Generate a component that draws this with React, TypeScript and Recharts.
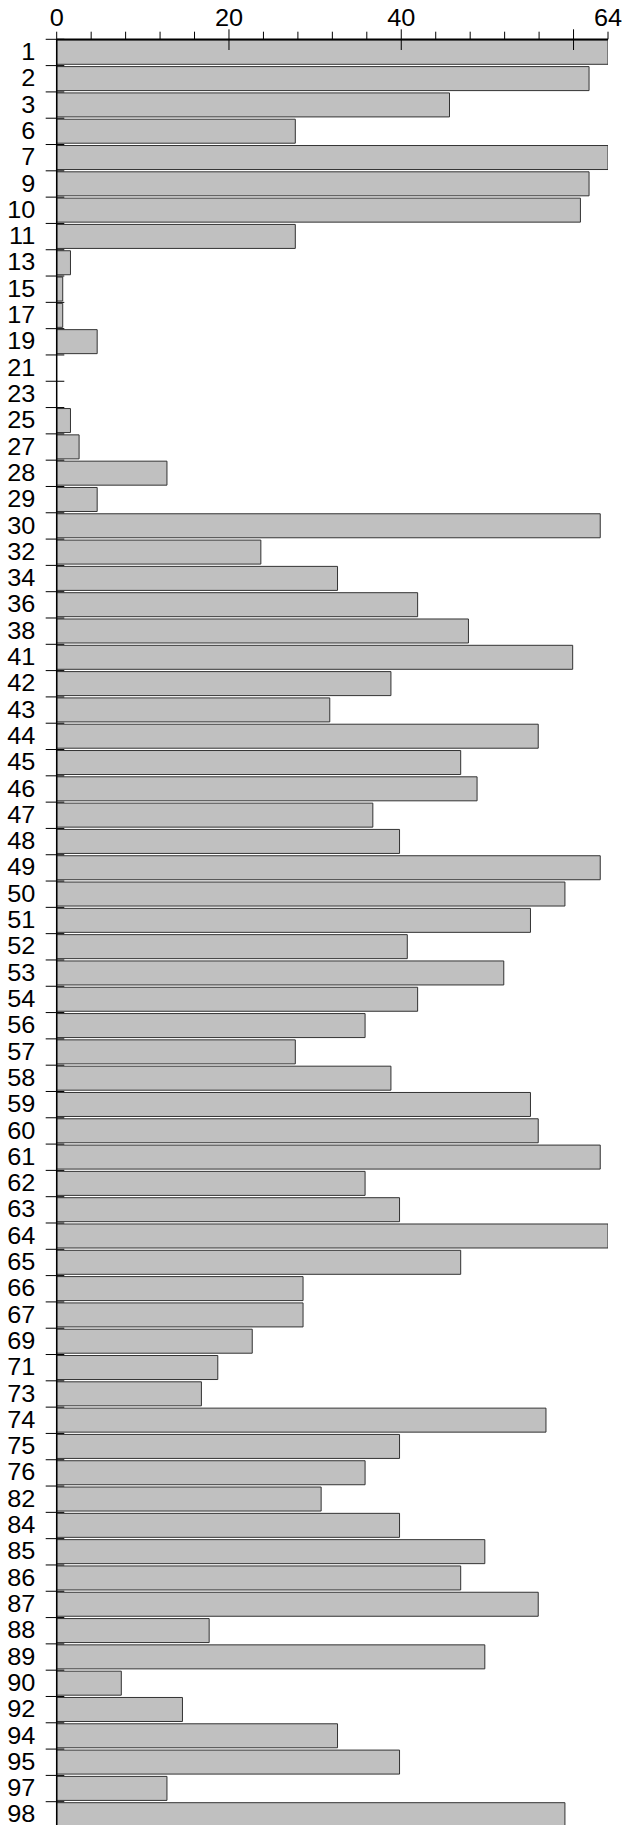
import React from 'react';
import { BarChart, Bar, XAxis, YAxis } from 'recharts';

const categories = [
  '1', '2', '3', '6', '7', '9', '10', '11', '13', '15', '17', '19', '21', '23', '25', '27', '28', '29', '30',
  '32', '34', '36', '38', '41', '42', '43', '44', '45', '46', '47', '48', '49', '50', '51', '52', '53', '54',
  '56', '57', '58', '59', '60', '61', '62', '63', '64', '65', '66', '67', '69', '71', '73', '74', '75', '76',
  '82', '84', '85', '86', '87', '88', '89', '90', '92', '94', '95', '97', '98',
];

const values = [
  64, 61.8, 45.6, 27.7, 64, 61.8, 60.8, 27.7, 1.6, 0.7, 0.7, 4.7, 0, 0, 1.6, 2.6, 12.8, 4.7, 63.1,
  23.7, 32.6, 41.9, 47.8, 59.9, 38.8, 31.7, 55.9, 46.9, 48.8, 36.7, 39.8, 63.1, 59.0, 55.0, 40.7, 51.9, 41.9,
  35.8, 27.7, 38.8, 55.0, 55.9, 63.1, 35.8, 39.8, 64, 46.9, 28.6, 28.6, 22.7, 18.7, 16.8, 56.8, 39.8, 35.8,
  30.7, 39.8, 49.7, 46.9, 55.9, 17.7, 49.7, 7.5, 14.6, 32.6, 39.8, 12.8, 59.0,
];

const xTicks = [0, 4, 8, 12, 16, 20, 24, 28, 32, 36, 40, 44, 48, 52, 56, 60, 64];
const xTickLabels = [0, 20, 40, 64];
const xMajorTicks = [20, 40, 60];

const data = categories.map((c, i) => ({ cat: c, v: values[i] }));

const FONT = "Arial, 'Liberation Sans', Helvetica, sans-serif";
const FS = 23;
const SX = 1.1;

const XTick = (props: any) => {
  const { x, y, payload } = props;
  const v = payload.value;
  const major = xMajorTicks.includes(v);
  return (
    <g>
      <line x1={x} x2={x} y1={major ? y - 10 : y - 7.6} y2={major ? y + 10.7 : y} stroke="#000" strokeWidth={1} />
      {xTickLabels.includes(v) && (
        <text
          transform={`translate(${x},${y - 13.3}) scale(${SX},1)`}
          textAnchor="middle"
          fontSize={FS}
          fontFamily={FONT}
          fill="#000"
        >
          {v}
        </text>
      )}
    </g>
  );
};

const YTick = (props: any) => {
  const { x, y, payload } = props;
  const half = typeof payload.offset === 'number' && payload.offset > 0 ? payload.offset : 13.15;
  const ty = y - half;
  return (
    <g>
      <line x1={x - 11} x2={x + 7.6} y1={ty} y2={ty} stroke="#000" strokeWidth={1} />
      <text
        transform={`translate(${x - 21.4},${y + 7.6}) scale(${SX},1)`}
        textAnchor="end"
        fontSize={FS}
        fontFamily={FONT}
        fill="#000"
      >
        {payload.value}
      </text>
    </g>
  );
};

export default function App() {
  return (
    <div style={{ position: 'absolute', left: 0, top: 0, width: 628, height: 1825, overflow: 'hidden', background: '#fff' }}>
      <BarChart
        layout="vertical"
        width={628}
        height={1828}
        data={data}
        margin={{ top: 0, right: 20, bottom: 0, left: 0 }}
        barCategoryGap={1}
      >
        <Bar dataKey="v" fill="#c0c0c0" stroke="#333" strokeWidth={1} isAnimationActive={false} />
        <XAxis
          type="number"
          orientation="top"
          domain={[0, 64]}
          ticks={xTicks}
          interval={0}
          height={39.3}
          tickSize={0}
          tickMargin={0}
          tickLine={false}
          tick={XTick}
          axisLine={{ stroke: '#000', strokeWidth: 1.5 }}
          allowDataOverflow
        />
        <YAxis
          type="category"
          dataKey="cat"
          width={56.7}
          interval={0}
          tickSize={0}
          tickMargin={0}
          tickLine={false}
          tick={YTick}
          axisLine={{ stroke: '#000', strokeWidth: 1.5 }}
        />
      </BarChart>
    </div>
  );
}
